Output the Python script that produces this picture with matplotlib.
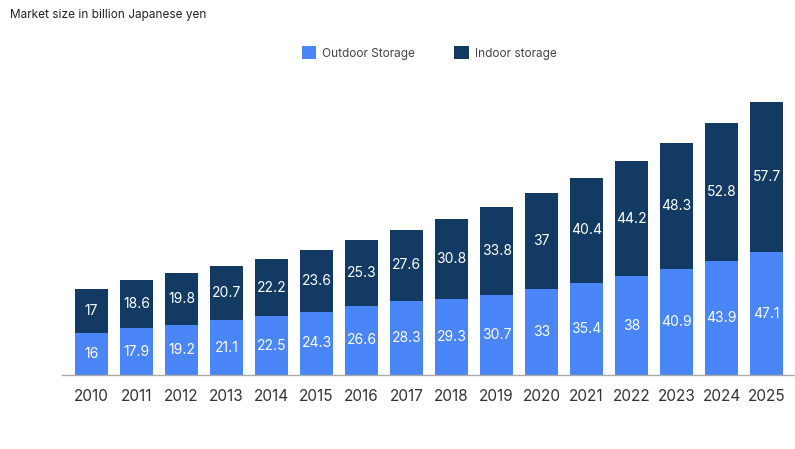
import numpy as np
import matplotlib.pyplot as plt

plt.rcParams['font.family'] = ['Inter', 'DejaVu Sans']

# data
years = ['2010', '2011', '2012', '2013', '2014', '2015', '2016', '2017',
         '2018', '2019', '2020', '2021', '2022', '2023', '2024', '2025']
outdoor = [16, 17.9, 19.2, 21.1, 22.5, 24.3, 26.6, 28.3,
           29.3, 30.7, 33, 35.4, 38, 40.9, 43.9, 47.1]
indoor = [17, 18.6, 19.8, 20.7, 22.2, 23.6, 25.3, 27.6,
          30.8, 33.8, 37, 40.4, 44.2, 48.3, 52.8, 57.7]

c_out = '#4a86f7'
c_in = '#123a63'

fig = plt.figure(figsize=(7.95, 4.49), dpi=100)
ax = fig.add_axes([62/795, 74/449, 733/795, 285/449])

x = np.arange(len(years))
w = 0.73
b1 = ax.bar(x, outdoor, w, color=c_out, label='Outdoor Storage')
b2 = ax.bar(x, indoor, w, bottom=outdoor, color=c_in, label='Indoor storage')

for i in range(len(years)):
    ax.text(x[i], outdoor[i] / 2, '%g' % outdoor[i], ha='center', va='center',
            color='white', fontsize=10)
    ax.text(x[i], outdoor[i] + indoor[i] / 2, '%g' % indoor[i], ha='center',
            va='center', color='white', fontsize=10)

ax.set_xlim(-0.656, 15.63)
ax.set_ylim(0, 109.5)
ax.set_xticks(x)
ax.set_xticklabels(years, fontsize=11, color='#333333')
ax.tick_params(axis='x', length=0, pad=10)
ax.set_yticks([])
for s in ['top', 'right', 'left']:
    ax.spines[s].set_visible(False)
ax.spines['bottom'].set_color('#aaaaaa')
ax.spines['bottom'].set_linewidth(1)

fig.text(10/795, 1 - 15/449, 'Market size in billion Japanese yen', fontsize=8.5,
         color='#222222', va='center', ha='left')

fig.legend(handles=[b1, b2], loc='center', bbox_to_anchor=(429/795, 1 - 53/449),
           ncol=2, frameon=False, fontsize=8.5, handlelength=1.25, handleheight=1.25,
           columnspacing=3.3, handletextpad=0.5, labelcolor='#444444')

fig.savefig('out.png', dpi=100)
